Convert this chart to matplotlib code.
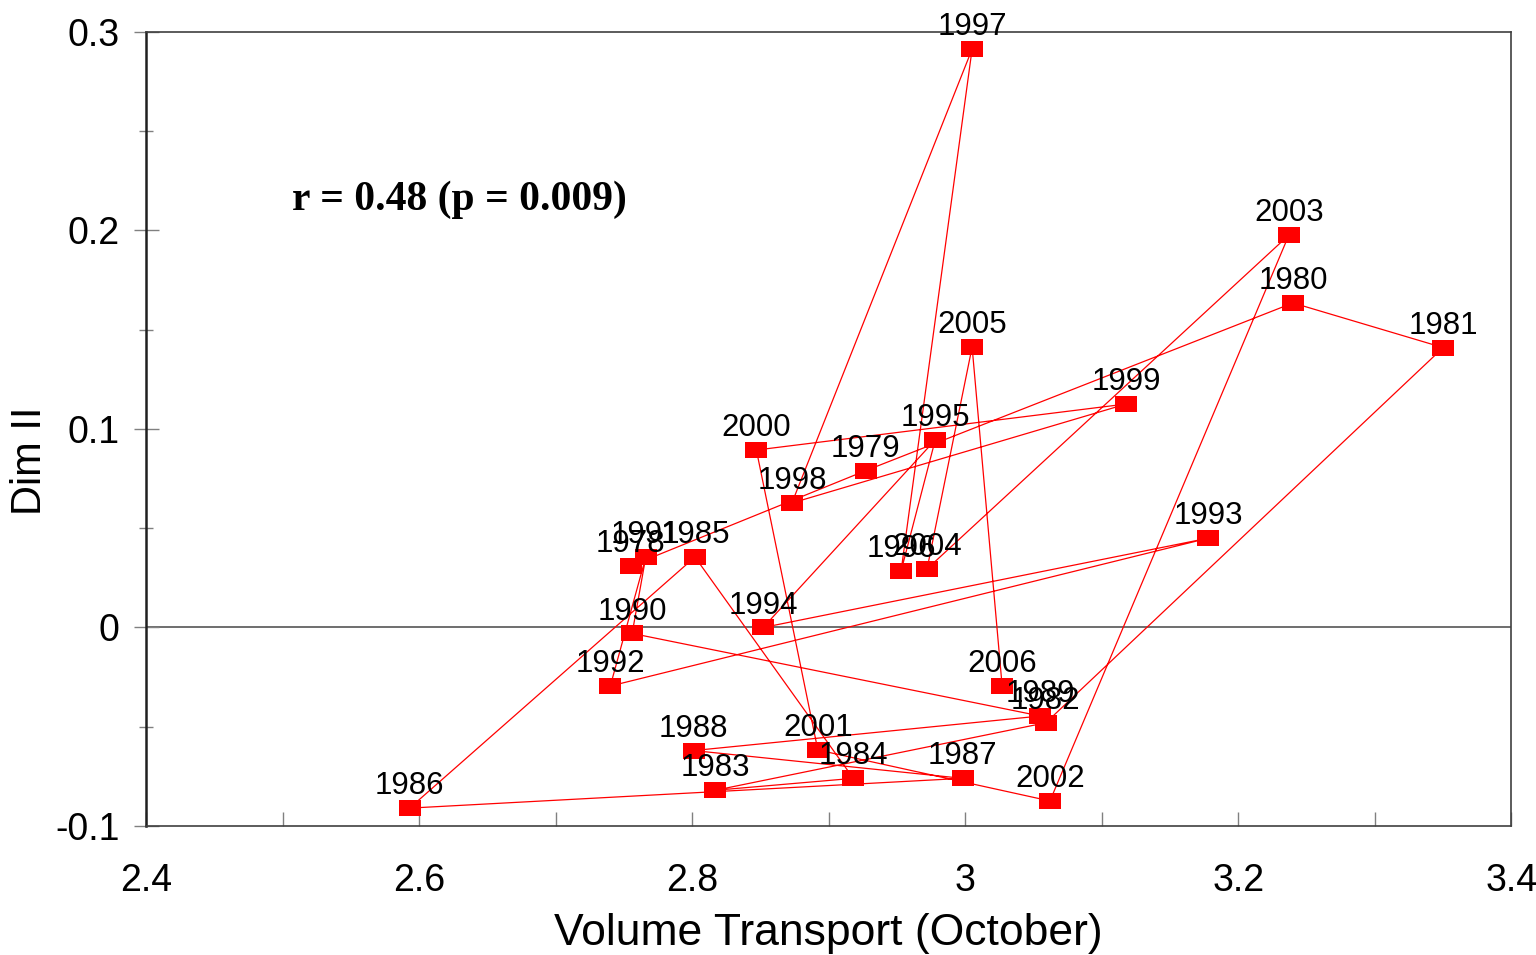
import numpy as np
import matplotlib
matplotlib.use("Agg")
import matplotlib.pyplot as plt
from matplotlib.ticker import MultipleLocator, FuncFormatter

# october volume transport vs. dim II score, one point per year
years = list(range(1978, 2007))
transport = [2.755, 2.927, 3.240, 3.350, 3.059, 2.817, 2.918, 2.802, 2.593, 2.998,
             2.801, 3.055, 2.756, 2.766, 2.740, 3.178, 2.852, 2.978, 2.953, 3.005,
             2.873, 3.118, 2.847, 2.892, 3.062, 3.237, 2.972, 3.005, 3.027]
dim2 = [0.031, 0.079, 0.1635, 0.141, -0.048, -0.082, -0.076, 0.0355, -0.091, -0.076,
        -0.062, -0.0446, -0.003, 0.0355, -0.0295, 0.045, 0.0, 0.0945, 0.0285, 0.2914,
        0.0627, 0.1126, 0.0894, -0.0617, -0.0874, 0.1977, 0.0295, 0.1413, -0.0295]

stats_txt = "r = 0.48 (p = 0.009)"

plt.rcParams['font.family'] = ['Liberation Sans', 'DejaVu Sans']

fig = plt.figure(figsize=(15.36, 9.55), dpi=100)
ax = fig.add_axes([0.0951, 0.1351, 0.8889, 0.8314])

# flat rectangle marker
rect = [(-1, -0.75), (1, -0.75), (1, 0.75), (-1, 0.75), (-1, -0.75)]
ax.plot(transport, dim2, color='red', lw=0.9, marker=rect, markersize=15.8,
        markerfacecolor='red', markeredgewidth=0, zorder=3)

for yr, x, y in zip(years, transport, dim2):
    ax.annotate(str(yr), (x, y), xytext=(0, 10), textcoords='offset points',
                ha='center', va='baseline', fontsize=22.5, zorder=4)

ax.axhline(0, color='#555555', lw=1.2, zorder=1)

ax.text(2.507, 0.2154, stats_txt, fontsize=30, fontweight='bold',
        family='Liberation Serif', va='center', ha='left')

ax.set_xlim(2.4, 3.4)
ax.set_ylim(-0.1, 0.3)

ax.xaxis.set_major_locator(MultipleLocator(0.2))
ax.xaxis.set_minor_locator(MultipleLocator(0.1))
ax.yaxis.set_major_locator(MultipleLocator(0.1))
ax.yaxis.set_minor_locator(MultipleLocator(0.05))
fmt = FuncFormatter(lambda v, p: '%g' % round(v, 3))
ax.xaxis.set_major_formatter(fmt)
ax.yaxis.set_major_formatter(fmt)

ax.tick_params(axis='x', which='both', direction='in', length=10, width=1,
               color='#808080', labelsize=27, pad=27)
ax.tick_params(axis='y', which='major', direction='inout', length=18, width=1,
               color='#808080', labelsize=27, pad=10)
ax.tick_params(axis='y', which='minor', direction='inout', length=10, width=1,
               color='#808080')

for side in ['top', 'right', 'bottom']:
    ax.spines[side].set_color('#404040')
    ax.spines[side].set_linewidth(1.2)
ax.spines['left'].set_color('#202020')
ax.spines['left'].set_linewidth(1.8)

ax.set_xlabel('Volume Transport (October)', fontsize=32, labelpad=10)
ax.set_ylabel('Dim II', fontsize=30)
ax.yaxis.set_label_coords(-0.07, 0.46)

fig.savefig('out.png', dpi=100)
